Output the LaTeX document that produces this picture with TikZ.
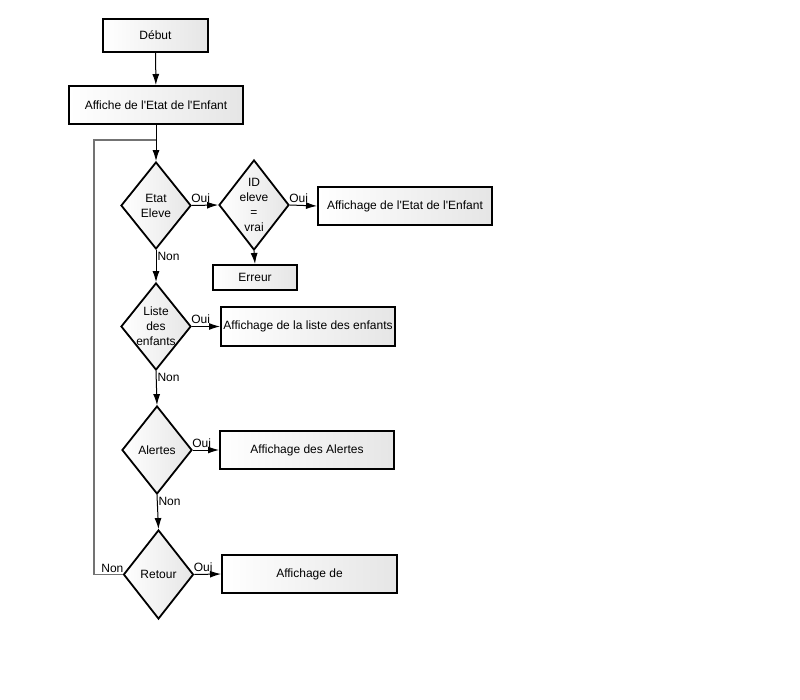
\documentclass[tikz,border=0pt]{standalone}
\usepackage{fontspec}
\setmainfont{Liberation Sans}[Ligatures=TeXOff]
\usetikzlibrary{shapes.geometric,arrows.meta}
\begin{document}
\begin{tikzpicture}[x=1pt,y=-1pt,
  font=\fontsize{12}{15}\selectfont,
  procbox/.style={draw=black,line width=2pt,left color=white,right color=black!10,inner sep=0pt,align=center},
  decision/.style={draw=black,line width=1.8pt,diamond,left color=white,right color=black!10,inner sep=0pt,minimum width=70pt,minimum height=87pt},
  arr/.style={line width=1pt,-{Latex[length=11pt,width=7pt]}},
  loopline/.style={line width=1.5pt,draw=black!55},
  lbl/.style={inner sep=2pt,font=\fontsize{12}{14}\selectfont}]
\useasboundingbox[fill=white] (0,0) rectangle (800,700);

\node[procbox,minimum width=105pt,minimum height=33pt] (debut) at (155.5,35.5) {Début};
\node[procbox,minimum width=174pt,minimum height=38pt] (affiche) at (156,105) {Affiche de l'Etat de l'Enfant};

\node[decision,label={[align=center]center:Etat\\Eleve}] (etat) at (156,205.5) {};
\node[decision,minimum height=90pt,label={[align=center]center:ID\\eleve\\=\\vrai}] (id) at (254,205) {};
\node[procbox,minimum width=174pt,minimum height=38pt] (affetat) at (405,206) {Affichage de l'Etat de l'Enfant};
\node[procbox,minimum width=84pt,minimum height=25pt] (erreur) at (255,277.5) {Erreur};

\node[decision,label={[align=center]center:Liste\\des\\enfants}] (liste) at (156,326.5) {};
\node[procbox,minimum width=174pt,minimum height=39pt] (affliste) at (308,326.5) {Affichage de la liste des enfants};

\node[decision,minimum height=88pt,label={[align=center]center:Alertes}] (alertes) at (157,450) {};
\node[procbox,minimum width=174pt,minimum height=38pt] (affalertes) at (307,450) {Affichage des Alertes};

\node[decision,minimum height=89pt,label={[align=center]center:Retour}] (retour) at (158.5,574.5) {};
\node[procbox,minimum width=175pt,minimum height=38pt] (affde) at (309.5,574) {Affichage de};

\coordinate (join) at (156,140);
\coordinate (loopbl) at (94,574.5);
\coordinate (looptl) at (94,140);

\draw[arr] (debut) -- (affiche);
\draw[arr] (affiche) -- (etat);
\draw[loopline] (retour.west) -- (loopbl) -- (looptl) -- (join);

\draw[arr] (etat.east) -- (id.west) node[lbl,pos=0,anchor=south west,xshift=-3pt] {Oui};
\draw[arr] (id.east) -- (affetat.west) node[lbl,pos=0,anchor=south west,xshift=-3pt] {Oui};
\draw[arr] (id.south) -- (erreur.north);
\draw[arr] (etat.south) -- (liste.north) node[lbl,pos=0,anchor=north west,xshift=-1pt] {Non};
\draw[arr] (liste.east) -- (affliste.west) node[lbl,pos=0,anchor=south west,xshift=-3pt] {Oui};
\draw[arr] (liste.south) -- (alertes.north) node[lbl,pos=0,anchor=north west,xshift=-1pt] {Non};
\draw[arr] (alertes.east) -- (affalertes.west) node[lbl,pos=0,anchor=south west,xshift=-3pt] {Oui};
\draw[arr] (alertes.south) -- (retour.north) node[lbl,pos=0,anchor=north west,xshift=-1pt] {Non};
\draw[arr] (retour.east) -- (affde.west) node[lbl,pos=0,anchor=south west,xshift=-3pt] {Oui};
\node[lbl,anchor=south east,xshift=3pt] at (retour.west) {Non};
\end{tikzpicture}
\end{document}
